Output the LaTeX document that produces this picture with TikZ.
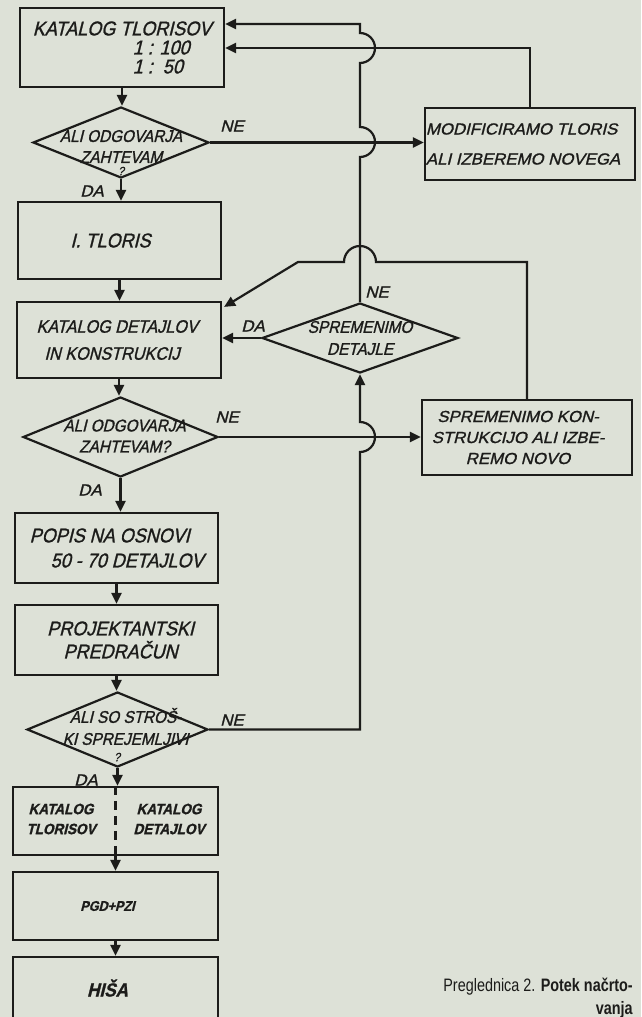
\documentclass[tikz,border=0pt]{standalone}
\usepackage{fontspec}
\setmainfont{Liberation Sans}
\newfontfamily\handfont[FakeSlant=0.25,FakeStretch=0.9,FakeBold=1.2]{Liberation Sans}
\newfontfamily\handwide[FakeSlant=0.25,FakeStretch=1.05,FakeBold=1.2]{Liberation Sans}
\newfontfamily\capfont[FakeStretch=0.8]{Liberation Sans}
\usetikzlibrary{arrows.meta, shapes.geometric}
\definecolor{paper}{RGB}{221,225,215}
\definecolor{ink}{RGB}{28,28,26}
\newcommand{\hfs}[2]{\handfont\fontsize{#1}{#2}\selectfont}
\newcommand{\hws}[2]{\handwide\fontsize{#1}{#2}\selectfont}

\tikzset{
  box/.style={draw=ink, line width=2.2pt, rectangle, inner sep=0pt, text=ink},
  ifbox/.style={draw=ink, line width=2.2pt, diamond, inner sep=0pt},
  flow/.style={draw=ink, line width=2.2pt, -{Triangle[length=11pt,width=10pt]}},
  wire/.style={draw=ink, line width=2.2pt},
  yesno/.style={text=ink, font=\hws{16}{18}, inner sep=0pt},
  iftext/.style={font=\hfs{17}{21}, text=ink, align=center}
}

\begin{document}
\begin{tikzpicture}[x=1pt, y=-1pt]
  \useasboundingbox (0,0) rectangle (641,1017);
  \fill[paper] (0,0) rectangle (641,1017);

  % left column
  \node[box, minimum width=204pt, minimum height=79pt, align=left,
    font=\hfs{20}{19}] (bTlo) at (122,47.5)
    {KATALOG TLORISOV\\\hspace*{100pt}1 : 100\\\hspace*{100pt}1 :\ \ 50};
  \node[ifbox, minimum width=176pt, minimum height=71pt,
    label={[iftext, yshift=-4pt]center:{ALI ODGOVARJA\\ZAHTEVAM}}]
    (dOdg1) at (121,142.5) {};
  \node[text=ink, font=\hfs{12}{12}, inner sep=0pt] (q1) at (121,171) {?};
  \node[box, minimum width=203pt, minimum height=77pt, font=\hfs{20}{22}]
    (bTlor) at (119.5,240.5) {\hspace*{-18pt}I. TLORIS};
  \node[box, minimum width=204pt, minimum height=76pt, align=left,
    font=\hfs{18}{27}] (bDet) at (119,340)
    {KATALOG DETAJLOV\\\hspace*{8pt}IN KONSTRUKCIJ\hspace*{22pt}};
  \node[ifbox, minimum width=195pt, minimum height=80pt,
    label={[iftext, xshift=4pt, yshift=1pt]center:{ALI ODGOVARJA\\ZAHTEVAM?}}]
    (dOdg2) at (120.5,437) {};
  \node[box, minimum width=203pt, minimum height=70pt, align=left,
    font=\hfs{20}{25}] (bPop) at (116.5,548)
    {POPIS NA OSNOVI\hspace*{8pt}\\\hspace*{21pt}50 - 70 DETAJLOV};
  \node[box, minimum width=203pt, minimum height=70pt, align=center,
    font=\hfs{20}{23}] (bPred) at (116.5,640)
    {\hspace*{8pt}PROJEKTANTSKI\\\hspace*{8pt}PREDRAČUN};
  \node[ifbox, minimum width=181pt, minimum height=75pt,
    label={[iftext, font=\hfs{17}{22}, xshift=8pt, yshift=3pt]center:{ALI SO STROŠ-\\KI SPREJEMLJIVI}}]
    (dStr) at (117.5,729.5) {};
  \node[text=ink, font=\hfs{12}{12}, inner sep=0pt] (q3) at (117,757) {?};
  \node[box, minimum width=205pt, minimum height=68pt] (bKat) at (115.5,821) {};
  \node[text=ink, font=\hfs{15}{20}\bfseries, align=center] (katL) at (61,819)
    {KATALOG\\TLORISOV};
  \node[text=ink, font=\hfs{15}{20}\bfseries, align=center] (katR) at (169,819)
    {KATALOG\\DETAJLOV};
  \node[box, minimum width=205pt, minimum height=68pt, font=\hfs{14}{16}\bfseries]
    (bPgd) at (115.5,906) {\hspace*{-16pt}PGD+PZI};
  \node[box, minimum width=205pt, minimum height=64pt, font=\hfs{19}{20}\bfseries]
    (bHisa) at (115.5,989) {\hspace*{-16pt}\raisebox{2pt}{HIŠA}};

  % right column
  \node[box, minimum width=210pt, minimum height=72pt, align=left,
    font=\hws{16}{30}] (bMod) at (530,144)
    {\hspace*{-14pt}MODIFICIRAMO TLORIS\\\hspace*{-14pt}ALI IZBEREMO NOVEGA};
  \node[ifbox, minimum width=196pt, minimum height=70pt,
    label={[iftext, font=\hfs{17}{22}]center:{SPREMENIMO\\DETAJLE}}]
    (dDet) at (360,338) {};
  \node[box, minimum width=210pt, minimum height=75pt, align=center,
    font=\hws{16}{21}] (bKon) at (527,437.5)
    {\hspace*{-18pt}SPREMENIMO KON-\\\hspace*{-18pt}STRUKCIJO ALI IZBE-\\\hspace*{-18pt}REMO NOVO};

  % answers
  \node[yesno] (ne1) at (232,126) {NE};
  \node[yesno] (da1) at (92,191) {DA};
  \node[yesno] (ne2) at (227,417) {NE};
  \node[yesno] (da2) at (90,490) {DA};
  \node[yesno] (ne3) at (377,292) {NE};
  \node[yesno] (da3) at (253,326) {DA};
  \node[yesno] (ne4) at (232,720) {NE};
  \node[yesno] (da4) at (86,780) {DA};

  % main flow
  \draw[flow] (bTlo.south) -- (bTlo.south |- dOdg1.north);
  \draw[flow] (dOdg1.south) -- (dOdg1.south |- bTlor.north);
  \draw[flow] (bTlor.south) -- (bTlor.south |- bDet.north);
  \draw[flow] (bDet.south) -- (bDet.south |- dOdg2.north);
  \draw[flow] (dOdg2.south) -- (dOdg2.south |- bPop.north);
  \draw[flow] (bPop.south) -- (bPop.south |- bPred.north);
  \draw[flow] (bPred.south) -- (bPred.south |- dStr.north);
  \draw[flow] (dStr.south) -- (dStr.south |- bKat.north);
  \draw[flow] (bKat.south) -- (bKat.south |- bPgd.north);
  \draw[flow] (bPgd.south) -- (bPgd.south |- bHisa.north);
  \draw[wire, dash pattern=on 9pt off 6pt] (bKat.north) -- (bKat.south);

  % loops back, with hops
  \draw[flow] (dDet.north) -- (360,157) arc[start angle=-90, end angle=90, radius=15pt]
    -- (360,63) arc[start angle=-90, end angle=90, radius=15pt]
    -- (360,24) -- (bTlo.east |- 0,24);
  \draw[flow] (bMod.north) |- (bTlo.east |- 0,48);
  \draw[flow] (dOdg1.east) -- (bMod.west |- dOdg1.east);
  \draw[flow] (dDet.west) -- (bDet.east |- dDet.west);
  \draw[flow] (dOdg2.east) -- (bKon.west |- dOdg2.east);
  \draw[flow] (bKon.north) |- (376,262) arc[start angle=0, end angle=180, radius=16pt]
    -- (298,262) -- ([xshift=2pt,yshift=-6pt]bDet.north east);
  \draw[flow] (dStr.east) -| (360,452) arc[start angle=-90, end angle=90, radius=15pt]
    -- (dDet.south);

  % caption
  \node[anchor=base east, inner sep=0pt, text=ink, font=\capfont\fontsize{18}{22}\selectfont]
    (cap1) at (633,991.5) {Preglednica 2. \textbf{Potek načrto-}};
  \node[anchor=base east, inner sep=0pt, text=ink, font=\capfont\fontsize{18}{22}\selectfont]
    (cap2) at (633,1014) {\textbf{vanja}};
\end{tikzpicture}
\end{document}
